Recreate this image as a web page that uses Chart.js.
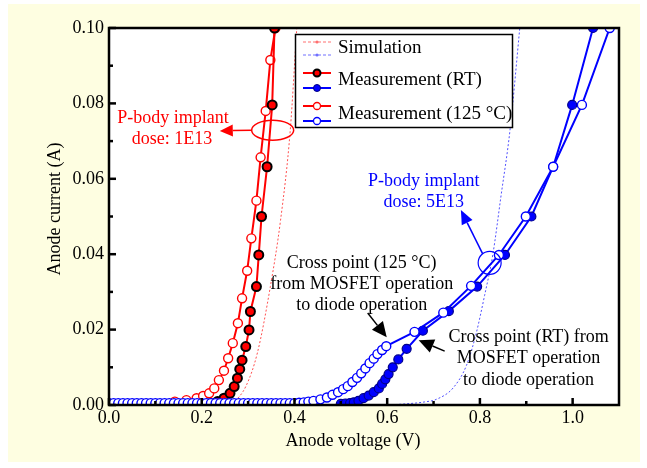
<!DOCTYPE html>
<html><head><meta charset="utf-8">
<script src="https://cdn.jsdelivr.net/npm/chart.js@4/dist/chart.umd.min.js"></script>
<style>html,body{margin:0;padding:0;background:#fff;}#wrap{width:647px;height:468px;position:relative}</style>
</head><body><div id="wrap"><canvas id="c" width="647" height="468"></canvas></div>
<script>
// ---- data (anode voltage V, anode current A) ----
const simRedV = [0.23, 0.25, 0.269, 0.295, 0.320, 0.348, 0.370, 0.391, 0.405];
const simRedI = [0.0000, 0.0003, 0.0009, 0.0049, 0.0138, 0.0314, 0.049, 0.073, 0.100];
const simBlueV = [0.60, 0.64, 0.68, 0.706, 0.742, 0.771, 0.792, 0.81, 0.828, 0.845, 0.865, 0.886];
const simBlueI = [0.0000, 0.0003, 0.0008, 0.0015, 0.0045, 0.0105, 0.019, 0.029, 0.040, 0.055, 0.073, 0.100];

const redRtV = [0.21, 0.22, 0.234, 0.248, 0.261, 0.270, 0.277, 0.282, 0.287, 0.295, 0.302, 0.305, 0.318, 0.323, 0.329, 0.341, 0.352, 0.357];
const redRtI = [0.0002, 0.0004, 0.0009, 0.0018, 0.0031, 0.0049, 0.0071, 0.0095, 0.0119, 0.0155, 0.0199, 0.0248, 0.0314, 0.0398, 0.050, 0.0632, 0.0796, 0.100];

const red125V = [0.142, 0.167, 0.189, 0.203, 0.216, 0.227, 0.237, 0.248, 0.257, 0.267, 0.278, 0.287, 0.298, 0.307, 0.318, 0.327, 0.338, 0.348, 0.359];
const red125I = [0.0009, 0.0013, 0.0018, 0.0024, 0.0031, 0.0044, 0.0066, 0.0091, 0.0124, 0.0164, 0.0217, 0.0283, 0.0356, 0.0442, 0.0542, 0.0657, 0.078, 0.0915, 0.100];

const blueRtV = [0.50, 0.51, 0.52, 0.528, 0.538, 0.549, 0.560, 0.571, 0.582, 0.589, 0.596, 0.603, 0.612, 0.624, 0.642, 0.677, 0.733, 0.794, 0.854, 0.911, 0.958, 0.999, 1.044];
const blueRtI = [0.0003, 0.0004, 0.0005, 0.0007, 0.0011, 0.0018, 0.0025, 0.0034, 0.0044, 0.0056, 0.0068, 0.0082, 0.0100, 0.0121, 0.0149, 0.0197, 0.0249, 0.0314, 0.0398, 0.050, 0.0632, 0.0796, 0.100];

const blue125V = [0.00, 0.01, 0.02, 0.03, 0.04, 0.05, 0.06, 0.07, 0.08, 0.09, 0.10, 0.11, 0.12, 0.13, 0.14, 0.15, 0.16, 0.17, 0.18, 0.19, 0.20,
  0.21, 0.22, 0.23, 0.24, 0.25, 0.26, 0.27, 0.28, 0.29, 0.30, 0.31, 0.32, 0.33, 0.34, 0.35, 0.36, 0.37, 0.38, 0.39, 0.40,
  0.41, 0.42, 0.43, 0.441, 0.456, 0.470, 0.482, 0.494, 0.505, 0.515, 0.525, 0.535, 0.544, 0.553, 0.562, 0.571, 0.579, 0.589, 0.598,
  0.659, 0.721, 0.781, 0.841, 0.899, 0.958, 1.020, 1.080];
const blue125I = [0.0005, 0.0005, 0.0005, 0.0005, 0.0005, 0.0005, 0.0005, 0.0005, 0.0005, 0.0005, 0.0005, 0.0005, 0.0005, 0.0005, 0.0005, 0.0005, 0.0005, 0.0005, 0.0005, 0.0005, 0.0005,
  0.0005, 0.0005, 0.0005, 0.0005, 0.0005, 0.0005, 0.0005, 0.0005, 0.0005, 0.0005, 0.0005, 0.0005, 0.0005, 0.0005, 0.0005, 0.0005, 0.0005, 0.0005, 0.0005, 0.0005,
  0.0006, 0.0007, 0.0009, 0.0011, 0.0015, 0.0020, 0.0027, 0.0034, 0.0042, 0.0050, 0.0061, 0.0072, 0.0084, 0.0097, 0.0111, 0.0123, 0.0135, 0.0146, 0.0156,
  0.0194, 0.0245, 0.0316, 0.0398, 0.050, 0.0632, 0.0796, 0.100];

const xTickValues = [0.0, 0.2, 0.4, 0.6, 0.8, 1.0];
const xMinorValues = [0.1, 0.3, 0.5, 0.7, 0.9];
const yTickValues = [0.00, 0.02, 0.04, 0.06, 0.08, 0.10];
const yMinorValues = [0.01, 0.03, 0.05, 0.07, 0.09];

const xTitle = 'Anode voltage (V)';
const yTitle = 'Anode current (A)';
const legendLabels = ['Simulation', 'Measurement (RT)', 'Measurement (125 °C)'];

const FONT = '"Liberation Serif", "Times New Roman", serif';
const RED = '#ff0000', BLUE = '#0000ff';

function pts(xs, ys) { return xs.map((x, i) => ({x: x, y: ys[i]})); }

const bgPlugin = {
  id: 'bg',
  beforeDraw(chart) {
    const c = chart.ctx, a = chart.chartArea;
    c.save();
    c.fillStyle = '#ffffff'; c.fillRect(0, 0, chart.width, chart.height);
    c.fillStyle = '#fefee1'; c.fillRect(8, 4, 632, 458);
    c.fillStyle = '#ffffff'; c.fillRect(a.left, a.top, a.right - a.left, a.bottom - a.top);
    c.restore();
  }
};

function arrow(c, x1, y1, x2, y2, color, L, W) {
  const ang = Math.atan2(y2 - y1, x2 - x1);
  const bx = x2 - L * Math.cos(ang), by = y2 - L * Math.sin(ang);
  c.strokeStyle = color; c.fillStyle = color; c.lineWidth = 1.5;
  c.beginPath(); c.moveTo(x1, y1); c.lineTo(bx, by); c.stroke();
  c.beginPath();
  c.moveTo(x2, y2);
  c.lineTo(bx + W * Math.sin(ang), by - W * Math.cos(ang));
  c.lineTo(bx - W * Math.sin(ang), by + W * Math.cos(ang));
  c.closePath(); c.fill();
}

const framePlugin = {
  id: 'frame',
  afterDatasetsDraw(chart) {
    const c = chart.ctx, a = chart.chartArea, xs = chart.scales.x, ys = chart.scales.y;
    c.save();
    c.strokeStyle = '#000'; c.lineWidth = 2.5; c.lineCap = 'butt';
    xTickValues.forEach(v => { const p = xs.getPixelForValue(v); c.beginPath(); c.moveTo(p, a.bottom); c.lineTo(p, a.bottom - 7); c.stroke(); });
    xMinorValues.forEach(v => { const p = xs.getPixelForValue(v); c.beginPath(); c.moveTo(p, a.bottom); c.lineTo(p, a.bottom - 4); c.stroke(); });
    yTickValues.forEach(v => { const p = ys.getPixelForValue(v); c.beginPath(); c.moveTo(a.left, p); c.lineTo(a.left + 7, p); c.stroke(); });
    yMinorValues.forEach(v => { const p = ys.getPixelForValue(v); c.beginPath(); c.moveTo(a.left, p); c.lineTo(a.left + 4, p); c.stroke(); });
    c.lineWidth = 2.5;
    c.strokeRect(a.left, a.top, a.right - a.left, a.bottom - a.top);
    c.restore();
  },
  afterDraw(chart) {
    const c = chart.ctx, xs = chart.scales.x, ys = chart.scales.y;
    const X = v => xs.getPixelForValue(v), Y = v => ys.getPixelForValue(v);
    c.save();
    // axis titles
    c.fillStyle = '#000'; c.font = '18px ' + FONT; c.textAlign = 'center'; c.textBaseline = 'middle';
    c.fillText(xTitle, 353, 441);
    c.save(); c.translate(55, 209); c.rotate(-Math.PI / 2); c.fillText(yTitle, 0, 0); c.restore();

    // red annotation
    c.fillStyle = RED;
    c.fillText('P-body implant', X(0.138), Y(0.0761));
    c.fillText('dose: 1E13', X(0.136), Y(0.0706));
    c.strokeStyle = RED; c.lineWidth = 1.5;
    c.beginPath(); c.ellipse(X(0.353), Y(0.0729), 21, 10, 0, 0, Math.PI * 2); c.stroke();
    arrow(c, X(0.353) - 21, Y(0.0729), X(0.239), Y(0.0727), RED, 13, 6);

    // blue annotation
    c.fillStyle = BLUE;
    c.fillText('P-body implant', X(0.679), Y(0.0594));
    c.fillText('dose: 5E13', X(0.679), Y(0.0538));
    c.strokeStyle = BLUE; c.lineWidth = 1.2;
    c.beginPath(); c.arc(X(0.821), Y(0.0377), 11.5, 0, Math.PI * 2); c.stroke();
    arrow(c, X(0.806), Y(0.0401), X(0.759), Y(0.0517), BLUE, 14, 6);

    // cross point texts
    c.fillStyle = '#000';
    c.fillText('Cross point (125 °C)', X(0.545), Y(0.0377));
    c.fillText('from MOSFET operation', X(0.545), Y(0.0321));
    c.fillText('to diode operation', X(0.545), Y(0.0265));
    arrow(c, X(0.558), Y(0.0244), X(0.599), Y(0.0180), '#000', 15, 7);
    c.fillText('Cross point (RT) from', X(0.905), Y(0.0180));
    c.fillText('MOSFET operation', X(0.905), Y(0.0125));
    c.fillText('to diode operation', X(0.905), Y(0.0066));
    arrow(c, X(0.724), Y(0.0143), X(0.668), Y(0.0172), '#000', 15, 7);

    // legend
    const bx = 295.5, by = 34.5, bw = 217, bh = 93;
    c.fillStyle = '#fff'; c.fillRect(bx, by, bw, bh);
    c.strokeStyle = '#000'; c.lineWidth = 1.5; c.strokeRect(bx, by, bw, bh);
    const lx1 = 303, lx2 = 331, mx = 317;
    function sample(y, color, dash, fill, border, r, bwid) {
      c.save();
      c.strokeStyle = color; c.lineWidth = dash ? 1 : 2; c.setLineDash(dash ? [3, 2] : []);
      c.beginPath(); c.moveTo(lx1, y); c.lineTo(lx2, y); c.stroke();
      c.setLineDash([]);
      c.beginPath(); c.arc(mx, y, r, 0, Math.PI * 2);
      c.fillStyle = fill; c.fill();
      if (bwid) { c.strokeStyle = border; c.lineWidth = bwid; c.stroke(); }
      c.restore();
    }
    sample(42, '#ff7070', true, '#ff7070', null, 1.5, 0);
    sample(55, '#7070ff', true, '#7070ff', null, 1.5, 0);
    sample(73, RED, false, RED, '#000', 3.5, 2);
    sample(88, BLUE, false, BLUE, '#000080', 3.5, 1);
    sample(106, RED, false, '#fff', RED, 3.5, 1.3);
    sample(121, BLUE, false, '#fff', BLUE, 3.5, 1.3);
    c.fillStyle = '#000'; c.textAlign = 'left'; c.textBaseline = 'middle'; c.font = '19px ' + FONT;
    c.fillText(legendLabels[0], 338, 48.5);
    c.fillText(legendLabels[1], 338, 80.5);
    c.fillText(legendLabels[2], 338, 114);
    c.restore();
  }
};

const common = {showLine: true, borderWidth: 2, pointRadius: 4.5, pointHoverRadius: 4.5};

new Chart(document.getElementById('c'), {
  type: 'scatter',
  data: {
    datasets: [
      Object.assign({}, common, {label: 'Measurement (125 °C) 5E13', data: pts(blue125V, blue125I), borderColor: BLUE, pointBackgroundColor: '#fff', pointBorderColor: BLUE, pointBorderWidth: 1.4, order: 0}),
      Object.assign({}, common, {label: 'Measurement (RT) 5E13', data: pts(blueRtV, blueRtI), borderColor: BLUE, pointBackgroundColor: BLUE, pointBorderColor: '#00008b', pointBorderWidth: 1.2, order: 1}),
      Object.assign({}, common, {label: 'Measurement (RT) 1E13', data: pts(redRtV, redRtI), borderColor: RED, pointBackgroundColor: RED, pointBorderColor: '#000', pointBorderWidth: 2, order: 2}),
      Object.assign({}, common, {label: 'Measurement (125 °C) 1E13', data: pts(red125V, red125I), borderColor: RED, pointBackgroundColor: '#fff', pointBorderColor: RED, pointBorderWidth: 1.4, order: 3}),
      {label: 'Simulation 1E13', data: pts(simRedV, simRedI), showLine: true, borderColor: '#ff5050', borderWidth: 1, borderDash: [2, 2], pointRadius: 0, cubicInterpolationMode: 'monotone', order: 4},
      {label: 'Simulation 5E13', data: pts(simBlueV, simBlueI), showLine: true, borderColor: '#5050ff', borderWidth: 1, borderDash: [2, 2], pointRadius: 0, cubicInterpolationMode: 'monotone', order: 5}
    ]
  },
  options: {
    responsive: false, animation: false, devicePixelRatio: 1,
    layout: {padding: {left: 0, right: 28, top: 28, bottom: 0}},
    plugins: {legend: {display: false}, tooltip: {enabled: false}},
    scales: {
      x: {
        type: 'linear', min: 0, max: 1.1,
        grid: {display: false, drawTicks: false}, border: {display: false},
        afterBuildTicks: s => { s.ticks = xTickValues.map(v => ({value: v})); },
        afterFit: s => { s.height = 63; },
        ticks: {callback: v => Number(v).toFixed(1), color: '#000', font: {family: FONT, size: 18}, padding: 2, maxRotation: 0, autoSkip: false}
      },
      y: {
        type: 'linear', min: 0, max: 0.1,
        grid: {display: false, drawTicks: false}, border: {display: false},
        afterBuildTicks: s => { s.ticks = yTickValues.map(v => ({value: v})); },
        afterFit: s => { s.width = 109; },
        ticks: {callback: v => Number(v).toFixed(2), color: '#000', font: {family: FONT, size: 18}, padding: 5, autoSkip: false}
      }
    }
  },
  plugins: [bgPlugin, framePlugin]
});
</script>
</body></html>
